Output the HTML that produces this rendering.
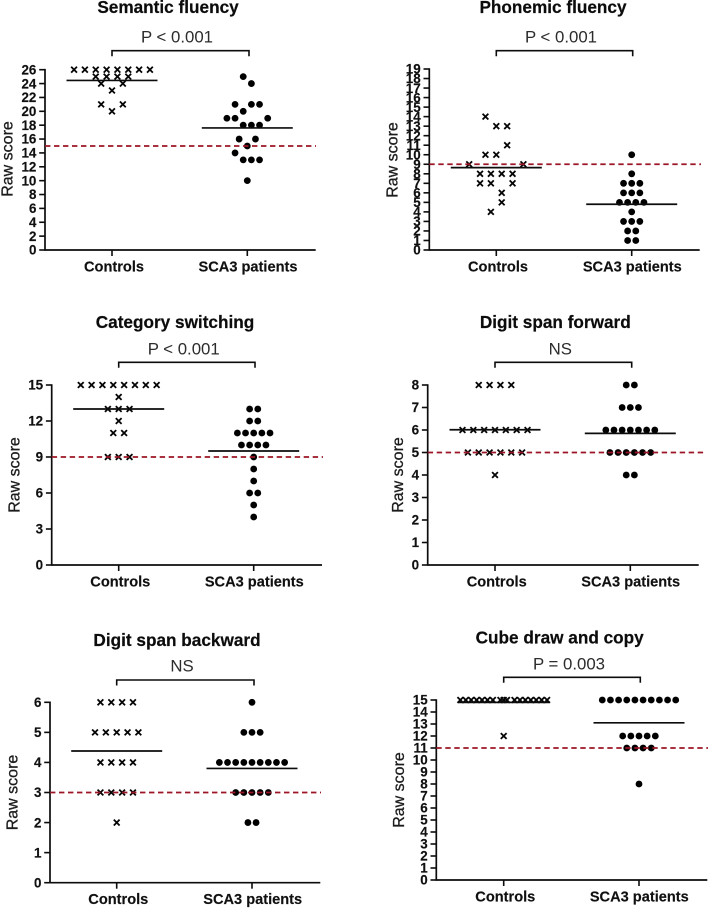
<!DOCTYPE html>
<html lang="en">
<head>
<meta charset="utf-8">
<title>Neuropsychological scores: controls vs SCA3 patients</title>
<style>
html,body{margin:0;padding:0;background:#fff;width:708px;height:908px;overflow:hidden}
svg{display:block}
text{font-family:"Liberation Sans",Arial,sans-serif}
.title{font-size:17.2px;font-weight:700;fill:#0c0c0c;text-anchor:middle;stroke:#0c0c0c;stroke-width:.2px}
.sig{font-size:16.8px;fill:#2c2c2c;text-anchor:middle}
.ylab{font-size:16px;fill:#1c1c1c;text-anchor:middle;stroke:#1c1c1c;stroke-width:.3px}
.cat{font-size:14.6px;font-weight:700;fill:#101010;text-anchor:middle;stroke:#101010;stroke-width:.15px}
.tick{font-size:13.4px;font-weight:700;fill:#101010;text-anchor:end;stroke:#101010;stroke-width:.15px}
</style>
</head>
<body>
<svg id="figure" width="708" height="908" viewBox="0 0 708 908" xmlns="http://www.w3.org/2000/svg">

<g id="semantic">
<text class="title" x="168" y="13">Semantic fluency</text>
<text class="sig" x="177" y="42.5">P &lt; 0.001</text>
<text class="ylab" transform="translate(12.5 159) rotate(-90)">Raw score</text>
<text class="cat" x="114" y="271.7">Controls</text>
<text class="cat" x="248" y="271.7">SCA3 patients</text>
</g>

<g id="phonemic">
<text class="title" x="553" y="13">Phonemic fluency</text>
<text class="sig" x="561" y="42.5">P &lt; 0.001</text>
<text class="ylab" transform="translate(397.3 160) rotate(-90)">Raw score</text>
<text class="cat" x="498" y="271.7">Controls</text>
<text class="cat" x="632.3" y="271.7">SCA3 patients</text>
</g>

<g id="category">
<text class="title" x="175" y="328">Category switching</text>
<text class="sig" x="183.7" y="354.5">P &lt; 0.001</text>
<text class="ylab" transform="translate(19.3 475) rotate(-90)">Raw score</text>
<text class="cat" x="120.3" y="586.7">Controls</text>
<text class="cat" x="254.3" y="586.7">SCA3 patients</text>
</g>

<g id="forward">
<text class="title" x="555.3" y="328">Digit span forward</text>
<text class="sig" x="560.3" y="354.5">NS</text>
<text class="ylab" transform="translate(403 475) rotate(-90)">Raw score</text>
<text class="cat" x="496.7" y="586.7">Controls</text>
<text class="cat" x="630.7" y="586.7">SCA3 patients</text>
</g>

<g id="backward">
<text class="title" x="177" y="646">Digit span backward</text>
<text class="sig" x="182" y="671.7">NS</text>
<text class="ylab" transform="translate(17.3 792.5) rotate(-90)">Raw score</text>
<text class="cat" x="118.3" y="904">Controls</text>
<text class="cat" x="252.7" y="904">SCA3 patients</text>
</g>

<g id="cube">
<text class="title" x="559.7" y="643.3">Cube draw and copy</text>
<text class="sig" x="569" y="669.5">P = 0.003</text>
<text class="ylab" transform="translate(404 790) rotate(-90)">Raw score</text>
<text class="cat" x="505.3" y="901.7">Controls</text>
<text class="cat" x="639.3" y="901.7">SCA3 patients</text>
</g>
</svg>

<script>
// ---- Data. "Dodge" = swarm slot of each point (1 slot = half a marker spacing).
const semanticTicks = [0,2,4,6,8,10,12,14,16,18,20,22,24,26];
const semanticControls = [26,26,26,26,26,26,26,26,25,25,25,25,24,24,23,21,21,20];
const semanticControlsDodge = [-7,-5,-3,-1,1,3,5,7,-3,-1,1,3,-2,2,0,-2,2,0];
const semanticPatients = [25,24,21,21,21,20,19,19,19,18,18,18,16,16,15,14,13,13,13,10];
const semanticPatientsDodge = [-1,1,-3,1,3,-1,-5,-3,5,-1,1,3,-2,2,0,-3,-1,1,3,0];
const semanticMeans = [24.45,17.6];
const semanticCutoff = 15;

const phonemicTicks = [0,1,2,3,4,5,6,7,8,9,10,11,12,13,14,15,16,17,18,19];
const phonemicControls = [14,13,13,11,10,10,9,9,8,8,8,8,7,7,7,6,5,4];
const phonemicControlsDodge = [-2,0,2,2,-2,0,-5,5,-3,-1,1,3,-3,-1,3,1,1,-1];
const phonemicPatients = [10,8,7,7,7,6,6,6,5,5,5,5,4,3,3,3,2,2,1,1];
const phonemicPatientsDodge = [0,0,-2,0,2,-2,0,2,-3,-1,1,3,0,-2,0,2,-1,1,-1,1];
const phonemicMeans = [8.65,4.8];
const phonemicCutoff = 9;

const categoryTicks = [0,3,6,9,12,15];
const categoryControls = [15,15,15,15,15,15,15,15,14,13,13,13,12,11,11,9,9,9];
const categoryControlsDodge = [-7,-5,-3,-1,1,3,5,7,0,-2,0,2,0,-1,1,-2,0,2];
const categoryPatients = [13,13,12,12,11,11,11,11,11,10,10,10,10,9,8,7,6,6,5,4];
const categoryPatientsDodge = [-1,1,-1,1,-4,-2,0,2,4,-3,-1,1,3,0,0,0,-1,1,0,0];
const categoryMeans = [13,9.5];
const categoryCutoff = 9;

const forwardTicks = [0,1,2,3,4,5,6,7,8];
const forwardControls = [8,8,8,8,6,6,6,6,6,6,6,5,5,5,5,5,5,4];
const forwardControlsDodge = [-3,-1,1,3,-6,-4,-2,0,2,4,6,-5,-3,-1,1,3,5,0];
const forwardPatients = [8,8,7,7,7,6,6,6,6,6,6,6,5,5,5,5,5,5,4,4];
const forwardPatientsDodge = [-1,1,-2,0,2,-6,-4,-2,0,2,4,6,-5,-3,-1,1,3,5,-1,1];
const forwardMeans = [6.01,5.85];
const forwardCutoff = 5;

const backwardTicks = [0,1,2,3,4,5,6];
const backwardControls = [6,6,6,6,5,5,5,5,5,4,4,4,4,3,3,3,3,2];
const backwardControlsDodge = [-3,-1,1,3,-4,-2,0,2,4,-3,-1,1,3,-3,-1,1,3,0];
const backwardPatients = [6,5,5,5,4,4,4,4,4,4,4,4,4,3,3,3,3,3,2,2];
const backwardPatientsDodge = [0,-2,0,2,-8,-6,-4,-2,0,2,4,6,8,-4,-2,0,2,4,-1,1];
const backwardMeans = [4.38,3.8];
const backwardCutoff = 3;

const cubeTicks = [0,1,2,3,4,5,6,7,8,9,10,11,12,13,14,15];
const cubeControls = [15,15,15,15,15,15,15,15,15,15,15,15,15,15,15,15,15,12];
const cubeControlsDodge = [-8,-7,-6,-5,-4,-3,-2,-0.6,0,0.6,2,3,4,5,6,7,8,0];
const cubePatients = [15,15,15,15,15,15,15,15,15,15,12,12,12,12,12,11,11,11,11,8];
const cubePatientsDodge = [-9,-7,-5,-3,-1,1,3,5,7,9,-4,-2,0,2,4,-3,-1,1,3,0];
const cubeMeans = [14.8,13.1];
const cubeCutoff = 11;

const SVG_NS = 'http://www.w3.org/2000/svg';
const CROSS_SLOT = 5.42;
const DOT_SLOT = 4.08;

function el(parent, tag, attrs) {
  const node = document.createElementNS(SVG_NS, tag);
  for (const k in attrs) node.setAttribute(k, attrs[k]);
  parent.appendChild(node);
  return node;
}

function drawPanel(id, frame, ticks, controls, controlsDodge, patients, patientsDodge, means, cutoff) {
  const g = document.getElementById(id);
  const top = ticks[ticks.length - 1];
  const yScale = function (v) { return frame.y0 + (frame.yTop - frame.y0) * (v / top); };
  const ink = '#0c0c0c';

  // axes
  const yAxis = el(g, 'line', {x1: frame.ax, x2: frame.ax, y1: frame.yTop - 0.8, y2: frame.y0 + 0.8, stroke: ink, 'stroke-width': 1.7});
  
  
  const xAxis = el(g, 'line', {x1: frame.ax, x2: frame.axEnd, y1: frame.y0, y2: frame.y0, stroke: ink, 'stroke-width': 1.7});
  
  

  ticks.forEach(function (t) {
    const y = yScale(t);
    const mark = el(g, 'line', {x1: frame.ax - 5.8, x2: frame.ax, y1: y, y2: y, stroke: ink, 'stroke-width': 1.6});
    
    
    const lab = el(g, 'text', {'class': 'tick', x: frame.ax - 8.6, y: y + 4.7});
    
    
    lab.textContent = t;
  });

  [frame.cx, frame.px].forEach(function (x) {
    const mark = el(g, 'line', {x1: x, x2: x, y1: frame.y0, y2: frame.y0 + 6, stroke: ink, 'stroke-width': 1.6});
    
    
  });

  // significance bracket
  const bracket = el(g, 'path', {
    d: 'M' + frame.cx + ' ' + (frame.by + 5.5) + 'V' + frame.by + 'H' + frame.bEnd + 'V' + (frame.by + 5.5),
    fill: 'none', stroke: ink, 'stroke-width': 1.6
  });
  
  

  // control crosses
  controls.forEach(function (v, i) {
    const x = frame.cx + controlsDodge[i] * CROSS_SLOT;
    const y = yScale(v);
    const r = 2.9;
    const cross = el(g, 'path', {
      d: 'M' + (x - r) + ' ' + (y - r) + 'L' + (x + r) + ' ' + (y + r) + 'M' + (x - r) + ' ' + (y + r) + 'L' + (x + r) + ' ' + (y - r),
      stroke: '#050505', 'stroke-width': 1.8, fill: 'none'
    });
    
    
  });

  // patient dots
  patients.forEach(function (v, i) {
    const dot = el(g, 'circle', {cx: frame.px + patientsDodge[i] * DOT_SLOT, cy: yScale(v), r: 3.4, fill: '#000'});
    
    
  });

  // group mean lines
  const meanC = el(g, 'line', {x1: frame.cx - 45.5, x2: frame.cx + 45.5, y1: yScale(means[0]), y2: yScale(means[0]), stroke: ink, 'stroke-width': 1.7});
  
  
  const meanP = el(g, 'line', {x1: frame.px - 45.5, x2: frame.px + 45.5, y1: yScale(means[1]), y2: yScale(means[1]), stroke: ink, 'stroke-width': 1.7});
  
  

  // cutoff line
  const cut = el(g, 'line', {
    x1: frame.ax, x2: frame.cutEnd, y1: yScale(cutoff), y2: yScale(cutoff),
    stroke: '#9c1526', 'stroke-width': 1.7, 'stroke-dasharray': '5.4 3.6'
  });
  
  
}

drawPanel('semantic', {ax: 45, axEnd: 315.7, yTop: 69.7, y0: 250, cx: 112, px: 247.3, by: 50.7, bEnd: 249, cutEnd: 316},
  semanticTicks, semanticControls, semanticControlsDodge, semanticPatients, semanticPatientsDodge, semanticMeans, semanticCutoff);
drawPanel('phonemic', {ax: 429.3, axEnd: 699.7, yTop: 69, y0: 250, cx: 496.3, px: 631.7, by: 50.7, bEnd: 632.7, cutEnd: 701},
  phonemicTicks, phonemicControls, phonemicControlsDodge, phonemicPatients, phonemicPatientsDodge, phonemicMeans, phonemicCutoff);
drawPanel('category', {ax: 51.7, axEnd: 322, yTop: 385, y0: 565, cx: 118.7, px: 253.7, by: 362.3, bEnd: 255, cutEnd: 323},
  categoryTicks, categoryControls, categoryControlsDodge, categoryPatients, categoryPatientsDodge, categoryMeans, categoryCutoff);
drawPanel('forward', {ax: 427.7, axEnd: 698.7, yTop: 385, y0: 565, cx: 495, px: 630.3, by: 362.3, bEnd: 631.7, cutEnd: 704},
  forwardTicks, forwardControls, forwardControlsDodge, forwardPatients, forwardPatientsDodge, forwardMeans, forwardCutoff);
drawPanel('backward', {ax: 50, axEnd: 320.3, yTop: 702.3, y0: 882.7, cx: 116.7, px: 252, by: 680, bEnd: 254, cutEnd: 321},
  backwardTicks, backwardControls, backwardControlsDodge, backwardPatients, backwardPatientsDodge, backwardMeans, backwardCutoff);
drawPanel('cube', {ax: 436.3, axEnd: 707.3, yTop: 700, y0: 880, cx: 503.7, px: 639, by: 677.3, bEnd: 640.3, cutEnd: 708},
  cubeTicks, cubeControls, cubeControlsDodge, cubePatients, cubePatientsDodge, cubeMeans, cubeCutoff);
</script>
</body>
</html>
